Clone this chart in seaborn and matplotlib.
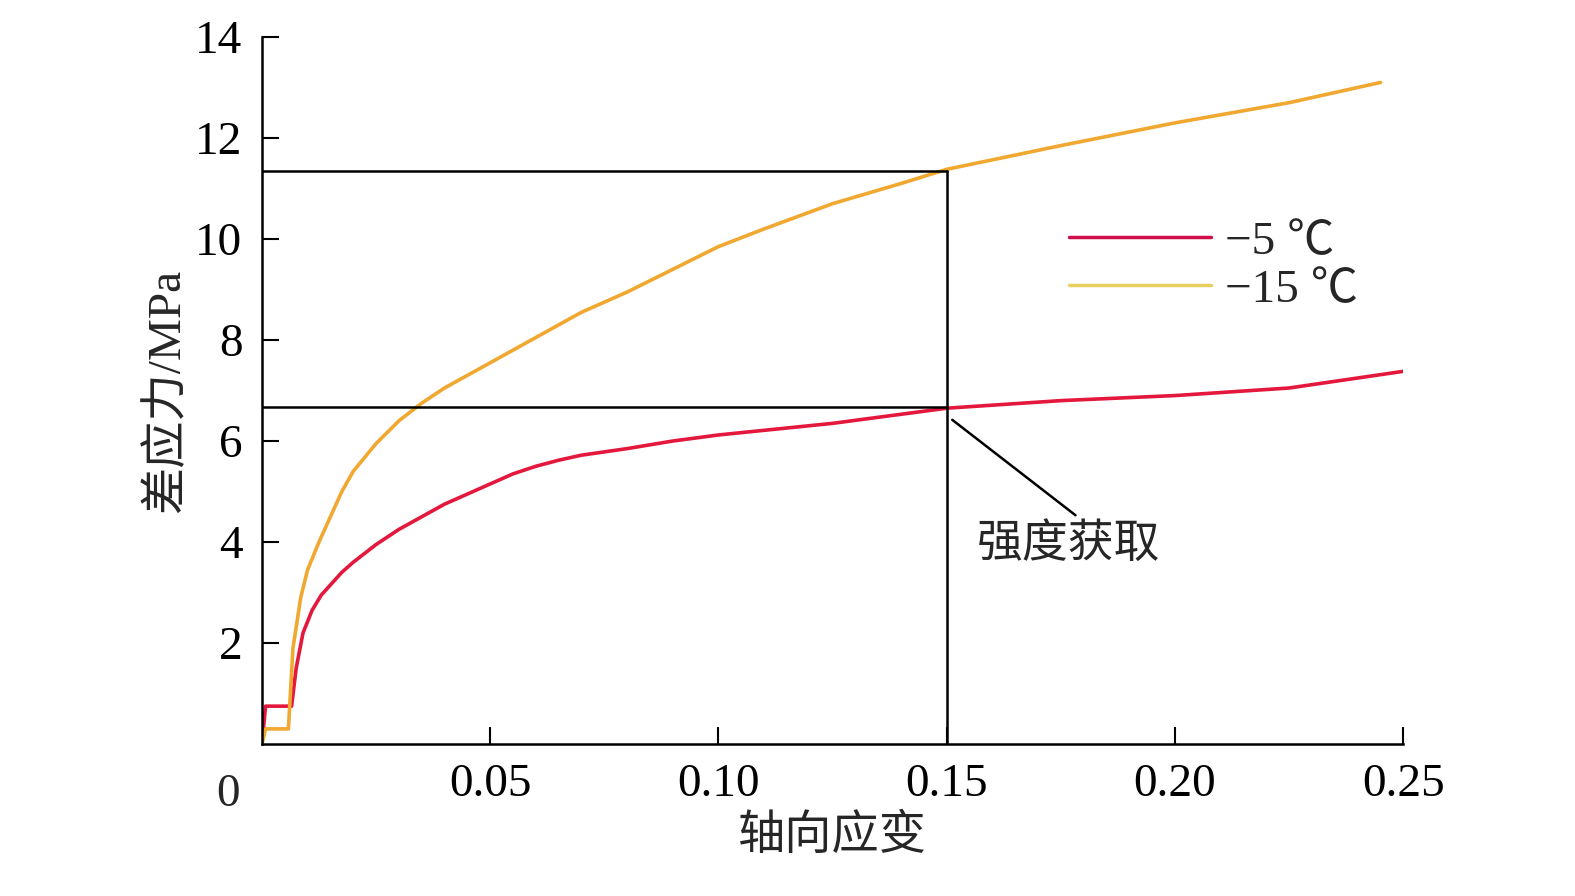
import matplotlib
matplotlib.use("Agg")
import matplotlib.pyplot as plt
import seaborn as sns
import pandas as pd

sns.set_theme(style="white")
FONT = ['Liberation Serif', 'Noto Sans CJK SC', 'DejaVu Sans']
plt.rcParams['font.family'] = FONT

strain_15 = [0, 0.0008, 0.0058, 0.0068, 0.0085, 0.01, 0.0125, 0.015, 0.0175, 0.02, 0.025, 0.03, 0.035, 0.04, 0.045, 0.05, 0.06, 0.07, 0.08, 0.09, 0.1, 0.11, 0.125, 0.14, 0.15, 0.175, 0.2, 0.225, 0.245]
stress_15 = [0, 0.3, 0.3, 1.9, 2.9, 3.45, 4.0, 4.5, 5.0, 5.4, 5.95, 6.4, 6.75, 7.05, 7.3, 7.55, 8.05, 8.55, 8.95, 9.4, 9.85, 10.2, 10.7, 11.1, 11.38, 11.85, 12.3, 12.7, 13.1]
strain_5 = [0, 0.0008, 0.0065, 0.0075, 0.009, 0.011, 0.013, 0.015, 0.0175, 0.02, 0.025, 0.03, 0.035, 0.04, 0.045, 0.05, 0.055, 0.06, 0.065, 0.07, 0.08, 0.09, 0.1, 0.125, 0.15, 0.175, 0.2, 0.225, 0.25]
stress_5 = [0, 0.75, 0.75, 1.5, 2.2, 2.65, 2.95, 3.15, 3.4, 3.6, 3.95, 4.25, 4.5, 4.75, 4.95, 5.15, 5.35, 5.5, 5.62, 5.72, 5.85, 6.0, 6.12, 6.35, 6.65, 6.8, 6.9, 7.05, 7.38]
labels = ['\u22125 \u2103', '\u221215 \u2103']
yticks = [2, 4, 6, 8, 10, 12, 14]
xticks = [0.05, 0.10, 0.15, 0.20, 0.25]
xtick_labels = ['0.05', '0.10', '0.15', '0.20', '0.25']

fig = plt.figure(figsize=(15.75, 8.96), dpi=100)
ax = fig.add_axes([0.1663, 0.1696, 0.891 - 0.1663, 0.9587 - 0.1696])

df = pd.concat([
    pd.DataFrame({'x': strain_5, 'y': stress_5, 's': labels[0]}),
    pd.DataFrame({'x': strain_15, 'y': stress_15, 's': labels[1]}),
])
sns.lineplot(data=df, x='x', y='y', hue='s', sort=False, estimator=None,
             palette={labels[0]: '#e4173c', labels[1]: '#f0a830'}, lw=2.6, ax=ax, legend=False)

ax.plot([0, 0.15], [11.35, 11.35], color='black', lw=1.8)
ax.plot([0, 0.15], [6.68, 6.68], color='black', lw=1.8)
ax.plot([0.15, 0.15], [0, 11.35], color='black', lw=1.8)
ax.plot([0.1512, 0.1782], [6.42, 4.53], color='black', lw=1.8)
ax.text(0.1565, 3.94, '强度获取', fontsize=33, va='center', ha='left', family=FONT)

from matplotlib.lines import Line2D
handles = [Line2D([], [], color='#d0104c', lw=2.5), Line2D([], [], color='#e8d060', lw=2.5)]
ax.legend(handles, labels, loc='upper left', bbox_to_anchor=(0.67, 0.80), frameon=False,
          fontsize=34, handlelength=3.0, labelspacing=0.1, handletextpad=0.3)

ax.set_xlim(0, 0.25)
ax.set_ylim(0, 14)
ax.set_xticks(xticks)
ax.set_xticklabels(xtick_labels)
ax.set_yticks(yticks)
ax.tick_params(bottom=True, left=True, direction='in', length=12, width=1.5,
               labelsize=34, colors='black', pad=14)
ax.text(-0.0075, -1.0, '0', fontsize=34, ha='center', va='center')
for s in ['top', 'right']:
    ax.spines[s].set_visible(False)
for s in ['left', 'bottom']:
    ax.spines[s].set_color('black')
    ax.spines[s].set_linewidth(1.8)
ax.set_xlabel('轴向应变', fontsize=34, labelpad=6)
ax.set_ylabel('差应力/MPa', fontsize=34, labelpad=4)
fig.savefig('out.png', dpi=100, facecolor='white')
